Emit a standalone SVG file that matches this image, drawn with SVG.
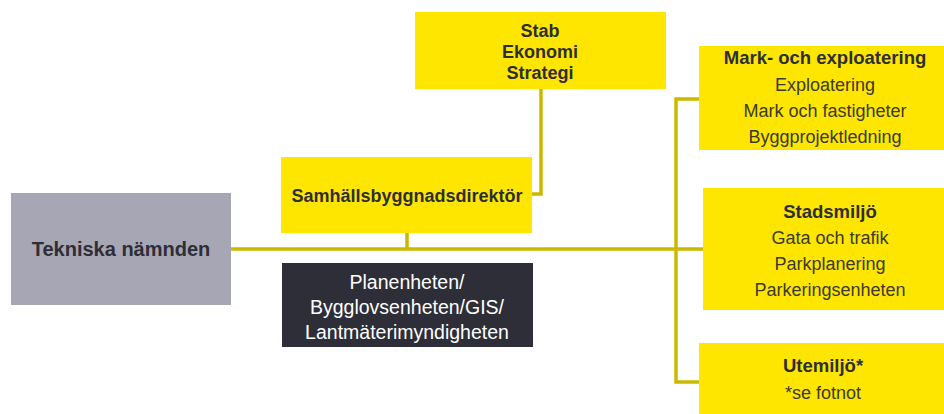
<svg xmlns="http://www.w3.org/2000/svg" width="944" height="414" viewBox="0 0 944 414">
<style>
.y{fill:#ffe600}
.t{font-family:"Liberation Sans","Open Sans",sans-serif;fill:#2e2e38;text-anchor:middle}
.b{font-weight:bold;font-size:18px}
.h{font-weight:bold;font-size:18.5px}
.n{font-size:18px;fill:#3a3a30}
.w{fill:#ffffff;font-size:19.5px}
.c{fill:none;stroke:#cbb800;stroke-width:3.5}
</style>
<rect width="944" height="414" fill="#ffffff"/>
<g id="connectors">
<path class="c" d="M231 249H703"/>
<path class="c" d="M407 233V249"/>
<path class="c" d="M532 194H541V89"/>
<path class="c" d="M699 99H676V382H699"/>
</g>
<g id="tekniska">
<rect x="11" y="193" width="220" height="112" fill="#a7a6b5"/>
<text class="t" x="121" y="256" font-size="20" font-weight="bold">Tekniska nämnden</text>
</g>
<g id="stab">
<rect class="y" x="415" y="12" width="251" height="77"/>
<text class="t b" x="540" y="37">Stab</text>
<text class="t b" x="540" y="58">Ekonomi</text>
<text class="t b" x="540" y="79">Strategi</text>
</g>
<g id="direktor">
<rect class="y" x="281" y="157" width="251" height="76"/>
<text class="t b" x="407" y="202">Samhällsbyggnadsdirektör</text>
</g>
<g id="planenheten">
<rect x="282" y="263" width="251" height="84" fill="#2e2e38"/>
<text class="t w" x="407" y="289">Planenheten/</text>
<text class="t w" x="407" y="314">Bygglovsenheten/GIS/</text>
<text class="t w" x="407" y="339">Lantmäterimyndigheten</text>
</g>
<g id="mark">
<rect class="y" x="699" y="46" width="245" height="104"/>
<text class="t h" x="825" y="64">Mark- och exploatering</text>
<text class="t n" x="825" y="91">Exploatering</text>
<text class="t n" x="825" y="117">Mark och fastigheter</text>
<text class="t n" x="825" y="143">Byggprojektledning</text>
</g>
<g id="stadsmiljo">
<rect class="y" x="703" y="188" width="241" height="122"/>
<text class="t h" x="830" y="218">Stadsmiljö</text>
<text class="t n" x="830" y="244">Gata och trafik</text>
<text class="t n" x="830" y="270">Parkplanering</text>
<text class="t n" x="830" y="296">Parkeringsenheten</text>
</g>
<g id="utemiljo">
<rect class="y" x="699" y="343" width="245" height="71"/>
<text class="t h" x="823" y="372">Utemiljö*</text>
<text class="t n" x="823" y="399">*se fotnot</text>
</g>
</svg>
